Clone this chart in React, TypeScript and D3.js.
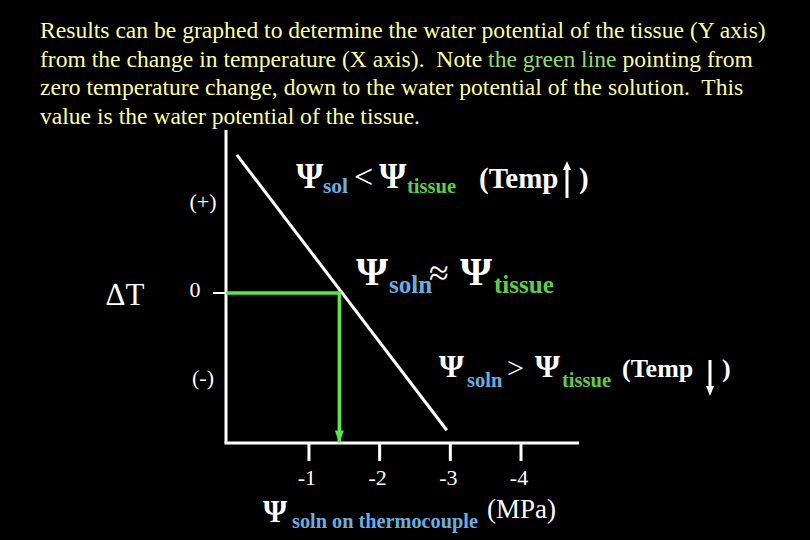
import React from 'react';
import * as d3 from 'd3';

// x axis: water potential of solution on thermocouple (MPa)
const psiTicks = [-1, -2, -3, -4];
const psiTickLabels = ['-1', '-2', '-3', '-4'];
// y axis: temperature change
const dtTicks = [1, 0, -1];
const dtTickLabels = ['(+)', '0', '(-)'];
// white calibration line (psi, dT)
const linePsi = [0.02, -2.95];
const lineDT = [1.57, -1.56];
// green line: from zero temperature change across to the line, then down
const greenPsi = [0.17, -1.43, -1.43];
const greenDT = [0, 0, -1.7];

const paragraph = [
  [{ t: 'Results can be graphed to determine the water potential of the tissue (Y axis)' }],
  [{ t: 'from the change in temperature (X axis).  Note ' }, { t: 'the green line', g: true }, { t: ' pointing from' }],
  [{ t: 'zero temperature change, down to the water potential of the solution.  This' }],
  [{ t: 'value is the water potential of the tissue.' }],
];

const YELLOW = '#ffff9c';
const BLUE = '#6aaee0';
const GREEN = '#62cc48';
const ARROW_GREEN = '#5fe44a';
const SERIF = '"Liberation Serif", "Times New Roman", serif';

export default function App() {
  const x = d3.scaleLinear().domain([0, -4]).range([238.3, 521]);
  const y = d3.scaleLinear().domain([1, -1]).range([205, 381]);

  const axisLeft = x.range()[0] - 12.3;
  const axisTop = 130;
  const axisBottom = 443;
  const axisRight = 579;

  const diag = d3.line<number>()
    .x(i => x(linePsi[i]))
    .y(i => y(lineDT[i]))(d3.range(linePsi.length));
  const green = d3.line<number>()
    .x(i => x(greenPsi[i]))
    .y(i => y(greenDT[i]))(d3.range(greenPsi.length));

  const gx = x(greenPsi[2]);
  const gy = y(greenDT[2]);

  return (
    <svg width={810} height={540} style={{ position: 'absolute', left: 0, top: 0, background: '#000' }}
      fontFamily={SERIF}>
      <rect width={810} height={540} fill="#000" />

      {/* explanation text */}
      <g fontSize={23.6} fill={YELLOW}>
        {paragraph.map((line, i) => (
          <text key={i} x={40} y={38 + i * 28.6} style={{ whiteSpace: 'pre' }}>
            {line.map((s, j) => (
              <tspan key={j} fill={s.g ? '#8fdc72' : YELLOW}>{s.t}</tspan>
            ))}
          </text>
        ))}
      </g>

      {/* axes */}
      <g stroke="#fff" strokeWidth={3} fill="none">
        <line x1={axisLeft} y1={axisTop} x2={axisLeft} y2={axisBottom} />
        <line x1={axisLeft - 1.5} y1={axisBottom} x2={axisRight} y2={axisBottom} />
        {psiTicks.map(v => (
          <line key={v} x1={x(v)} y1={axisBottom} x2={x(v)} y2={461} />
        ))}
        <line x1={213} y1={y(0)} x2={axisLeft} y2={y(0)} strokeWidth={2} />
      </g>

      {psiTicks.map((v, i) => (
        <text key={v} x={x(v) - 2} y={485} fill="#fff" fontSize={22} textAnchor="middle">
          {psiTickLabels[i]}
        </text>
      ))}
      {dtTicks.map((v, i) => (
        <text key={v} x={i === 1 ? 195 : 203} y={y(v) + 4} fill="#fff" fontSize={22} textAnchor="middle">
          {dtTickLabels[i]}
        </text>
      ))}
      <text x={125} y={305} fill="#fff" fontSize={31} textAnchor="middle">ΔT</text>

      {/* calibration line */}
      <path d={diag ?? ''} stroke="#fff" strokeWidth={3} fill="none" />

      {/* green line with arrow */}
      <path d={green ?? ''} stroke={ARROW_GREEN} strokeWidth={3.5} fill="none" />
      <path d={`M${gx - 4.5},${gy - 12}L${gx + 4.5},${gy - 12}L${gx},${gy + 1}Z`} fill={ARROW_GREEN} />

      {/* label: psi sol < psi tissue (Temp up) */}
      <g fontWeight="bold">
        <text x={296} y={188} fill="#fff" fontSize={35}>Ψ</text>
        <text x={323} y={193} fill={BLUE} fontSize={21.5}>sol</text>
        <text x={354} y={188} fill="#fff" fontSize={34} fontWeight="normal">&lt;</text>
        <text x={379} y={188} fill="#fff" fontSize={35}>Ψ</text>
        <text x={407} y={193} fill={GREEN} fontSize={20.5}>tissue</text>
        <text x={479} y={188} fill="#fff" fontSize={29}>(Temp</text>
        <text x={579} y={188} fill="#fff" fontSize={29}>)</text>
      </g>
      <line x1={567} y1={198} x2={567} y2={168} stroke="#fff" strokeWidth={3} />
      <path d="M563,170L571,170L567,161Z" fill="#fff" />

      {/* label: psi soln ~ psi tissue */}
      <g fontWeight="bold">
        <text x={356} y={285} fill="#fff" fontSize={41}>Ψ</text>
        <text x={389} y={293} fill={BLUE} fontSize={25}>soln</text>
        <text x={429} y={285} fill="#fff" fontSize={36} fontWeight="normal">≈</text>
        <text x={460} y={285} fill="#fff" fontSize={41}>Ψ</text>
        <text x={494} y={293} fill={GREEN} fontSize={25}>tissue</text>
      </g>

      {/* label: psi soln > psi tissue (Temp down) */}
      <g fontWeight="bold">
        <text x={439} y={377} fill="#fff" fontSize={32}>Ψ</text>
        <text x={467} y={387} fill={BLUE} fontSize={20.5}>soln</text>
        <text x={507} y={378} fill="#fff" fontSize={30} fontWeight="normal">&gt;</text>
        <text x={535} y={377} fill="#fff" fontSize={32}>Ψ</text>
        <text x={562} y={387} fill={GREEN} fontSize={20.5}>tissue</text>
        <text x={622} y={377} fill="#fff" fontSize={26}>(Temp</text>
        <text x={722} y={377} fill="#fff" fontSize={26}>)</text>
      </g>
      <line x1={710} y1={360} x2={710} y2={388} stroke="#fff" strokeWidth={3} />
      <path d="M706,386L714,386L710,396Z" fill="#fff" />

      {/* x axis title */}
      <g fontWeight="bold">
        <text x={263} y={522} fill="#fff" fontSize={31}>Ψ</text>
        <text x={292} y={528} fill={BLUE} fontSize={20.3}>soln on thermocouple</text>
      </g>
      <text x={487} y={518} fill="#fff" fontSize={27}>(MPa)</text>
    </svg>
  );
}
